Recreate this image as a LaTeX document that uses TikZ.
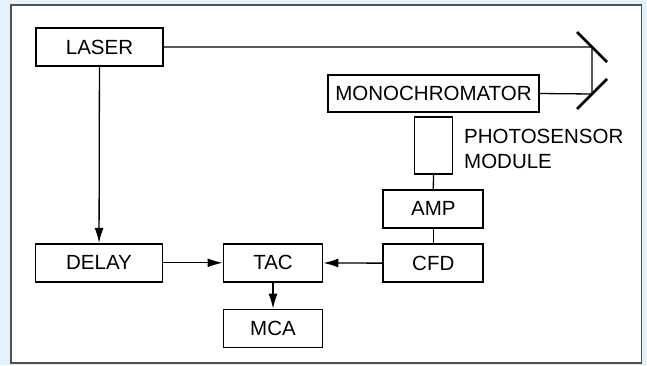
\documentclass[tikz,border=0pt]{standalone}
\usepackage{fontspec}
\setmainfont{Liberation Sans}
\usetikzlibrary{positioning,arrows.meta}
\definecolor{paleblue}{RGB}{230,242,251}
\definecolor{framegray}{RGB}{80,80,80}

\begin{document}
\begin{tikzpicture}[x=1pt,y=-1pt,
    every node/.style={font=\fontsize{20.5}{25}\selectfont},
    block/.style={draw, line width=1.8pt, inner sep=0pt, minimum height=38pt},
    link/.style={line width=1.3pt},
    arr/.style={link, -{Latex[length=15pt,width=9pt]}},
    mirror/.style={line width=2.8pt}]
    %%%%% BACKGROUND AND PANEL
    \fill[paleblue] (0,0) rectangle (647,365);
    \draw[framegray, line width=1.2pt, fill=white] (11,5) rectangle (641.5,363);
    %%%%% THE BLOCKS
    \node[block, minimum width=127pt] (LASER) at (99.5,47) {LASER};
    \node[block, minimum width=211pt, minimum height=37pt] (MONO) at (433.5,93.5) {MONOCHROMATOR};
    \node[block, minimum width=38pt, minimum height=57pt] (PMT) at (433.5,145.5) {};
    \node[anchor=west, align=left, inner sep=0pt] (PMTLABEL) at (464,149) {PHOTOSENSOR\\MODULE};
    \node[block, minimum width=100pt] (AMP) at (433.3,208.8) {AMP};
    \node[block, minimum width=100pt] (CFD) at (433.3,263.3) {CFD};
    \node[block, minimum width=127pt] (DELAY) at (99,262.8) {DELAY};
    \node[block, minimum width=99pt] (TAC) at (273,262.8) {TAC};
    \node[block, minimum width=99pt] (MCA) at (273,328.5) {MCA};
    %%%%% THE MIRRORS
    \coordinate (M1) at (592,47);
    \coordinate (M2) at (592,94);
    \draw[mirror] (M1) ++(-15,-15) -- ++(30,30);
    \draw[mirror] (M2) ++(-15,15) -- ++(30,-30);
    %%%% BEAM AND SIGNAL LINKS
    \draw[link] (LASER.east) -- (M1) -- (M2) -- (MONO.east);
    \draw[link] (PMT.south) -- (AMP.north);
    \draw[link] (AMP) -- (CFD);
    \draw[arr] (LASER) -- (DELAY);
    \draw[arr] (DELAY) -- (TAC);
    \draw[arr] (CFD) -- (TAC);
    \draw[arr] (TAC) -- (MCA);
\end{tikzpicture}
\end{document}
